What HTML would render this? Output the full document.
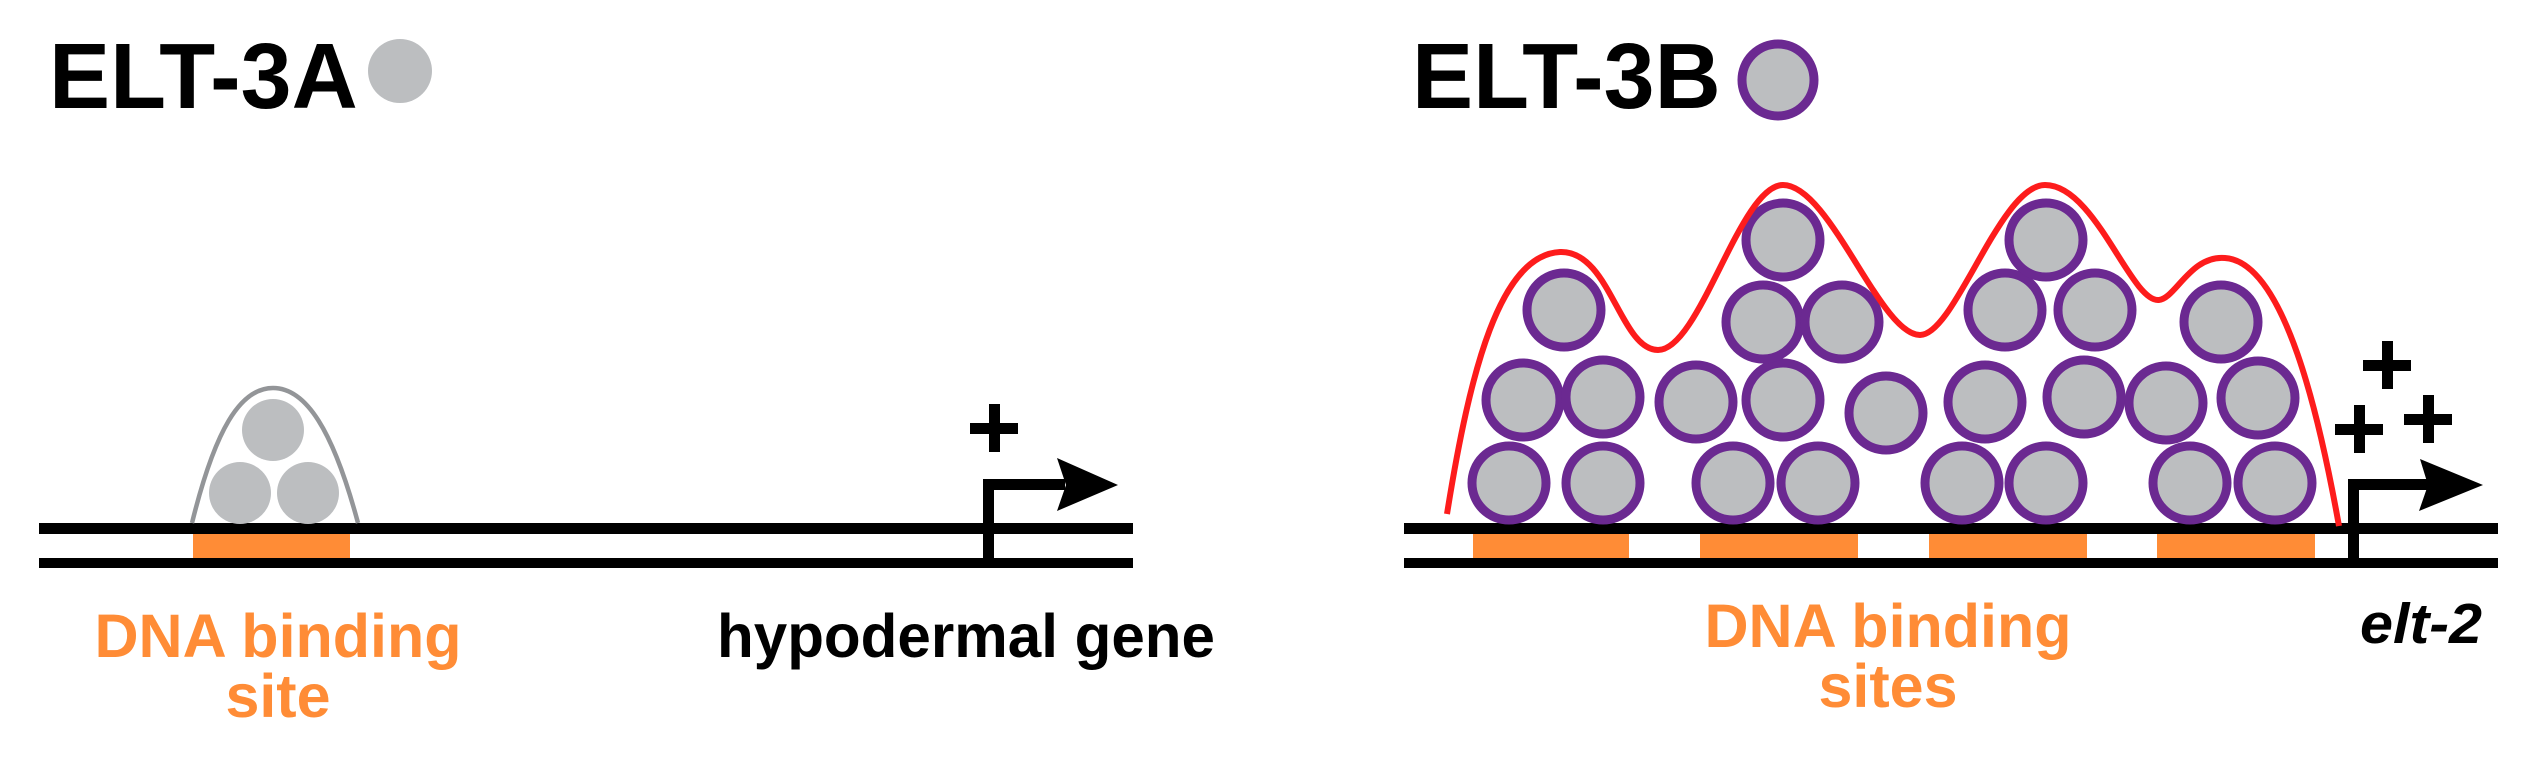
<!DOCTYPE html>
<html><head><meta charset="utf-8"><style>
html,body{margin:0;padding:0;background:#fff;}
svg{display:block;}
text{font-family:"Liberation Sans",Arial,sans-serif;font-weight:bold;}
</style></head><body>
<svg width="2527" height="757" viewBox="0 0 2527 757" xmlns="http://www.w3.org/2000/svg">
<rect width="2527" height="757" fill="#fff"/>
<!-- LEFT PANEL -->
<text x="49" y="108" font-size="93" fill="#000" transform="translate(49 0) scale(0.985 1) translate(-49 0)">ELT-3A</text>
<circle cx="400" cy="71" r="32" fill="#bcbec0"/>
<rect x="193" y="534" width="157" height="24" fill="#ff8c36"/>
<rect x="39" y="523" width="1094" height="11" fill="#000"/>
<rect x="39" y="558" width="1094" height="10" fill="#000"/>
<circle cx="273" cy="430" r="31" fill="#bcbec0"/>
<circle cx="240" cy="493" r="31" fill="#bcbec0"/>
<circle cx="308" cy="493" r="31" fill="#bcbec0"/>
<path d="M192 523 C215 430 240 388 273 388 C306 388 333 430 358 523" fill="none" stroke="#939598" stroke-width="4.5"/>
<rect x="983" y="479" width="11" height="89" fill="#000"/>
<rect x="983" y="479" width="82" height="11" fill="#000"/>
<polygon points="1057,458 1118,485 1057,511 1066,485" fill="#000"/>
<rect x="970" y="423" width="48" height="11" fill="#000"/>
<rect x="989" y="404" width="11" height="48" fill="#000"/>
<text x="278" y="657" font-size="61" fill="#ff8c36" text-anchor="middle">DNA binding</text>
<text x="278" y="717" font-size="61" fill="#ff8c36" text-anchor="middle">site</text>
<text x="717" y="657" font-size="61" fill="#000" textLength="498" lengthAdjust="spacingAndGlyphs">hypodermal gene</text>

<!-- RIGHT PANEL -->
<text x="1412" y="108" font-size="93" fill="#000" transform="translate(1412 0) scale(0.985 1) translate(-1412 0)">ELT-3B</text>
<circle cx="1778" cy="80" r="36" fill="#bcbec0" stroke="#6b2991" stroke-width="9"/>
<rect x="1473" y="534" width="156" height="24" fill="#ff8c36"/>
<rect x="1700" y="534" width="158" height="24" fill="#ff8c36"/>
<rect x="1929" y="534" width="158" height="24" fill="#ff8c36"/>
<rect x="2157" y="534" width="158" height="24" fill="#ff8c36"/>
<rect x="1404" y="523" width="1094" height="11" fill="#000"/>
<rect x="1404" y="558" width="1094" height="10" fill="#000"/>
<g fill="#bcbec0" stroke="#6b2991" stroke-width="9">
<circle cx="1509" cy="483" r="37"/>
<circle cx="1603" cy="483" r="37"/>
<circle cx="1733" cy="483" r="37"/>
<circle cx="1818" cy="483" r="37"/>
<circle cx="1962" cy="483" r="37"/>
<circle cx="2046" cy="483" r="37"/>
<circle cx="2190" cy="483" r="37"/>
<circle cx="2275" cy="483" r="37"/>
<circle cx="1523" cy="400" r="37"/>
<circle cx="1603" cy="397" r="37"/>
<circle cx="1696" cy="402" r="37"/>
<circle cx="1783" cy="400" r="37"/>
<circle cx="1886" cy="413" r="37"/>
<circle cx="1985" cy="402" r="37"/>
<circle cx="2084" cy="397" r="37"/>
<circle cx="2166" cy="403" r="37"/>
<circle cx="2258" cy="398" r="37"/>
<circle cx="1564" cy="310" r="37"/>
<circle cx="1763" cy="322" r="37"/>
<circle cx="1842" cy="322" r="37"/>
<circle cx="2005" cy="310" r="37"/>
<circle cx="2095" cy="310" r="37"/>
<circle cx="2221" cy="322" r="37"/>
<circle cx="1783" cy="240" r="37"/>
<circle cx="2046" cy="240" r="37"/>
</g>
<path d="M1447 514 C1470 370 1500 255 1560 252 C1610 250 1620 350 1658 350 C1700 350 1740 185 1783 185 C1830 185 1880 335 1920 335 C1955 335 2000 185 2045 185 C2095 185 2130 300 2158 300 C2175 300 2190 255 2225 258 C2285 262 2320 420 2339 526" fill="none" stroke="#fd1c1c" stroke-width="6"/>
<rect x="2348" y="479" width="11" height="89" fill="#000"/>
<rect x="2348" y="479" width="82" height="11" fill="#000"/>
<polygon points="2420,459 2483,485 2419,511 2428,485" fill="#000"/>
<rect x="2363" y="360" width="48" height="11" fill="#000"/>
<rect x="2382" y="341" width="11" height="48" fill="#000"/>
<rect x="2335" y="424" width="48" height="11" fill="#000"/>
<rect x="2354" y="405" width="11" height="48" fill="#000"/>
<rect x="2404" y="414" width="48" height="11" fill="#000"/>
<rect x="2423" y="395" width="11" height="48" fill="#000"/>
<text x="1888" y="647" font-size="61" fill="#ff8c36" text-anchor="middle">DNA binding</text>
<text x="1888" y="707" font-size="61" fill="#ff8c36" text-anchor="middle">sites</text>
<text x="2360" y="643" font-size="57" font-style="italic" fill="#000" textLength="122" lengthAdjust="spacingAndGlyphs">elt-2</text>
</svg>
</body></html>
